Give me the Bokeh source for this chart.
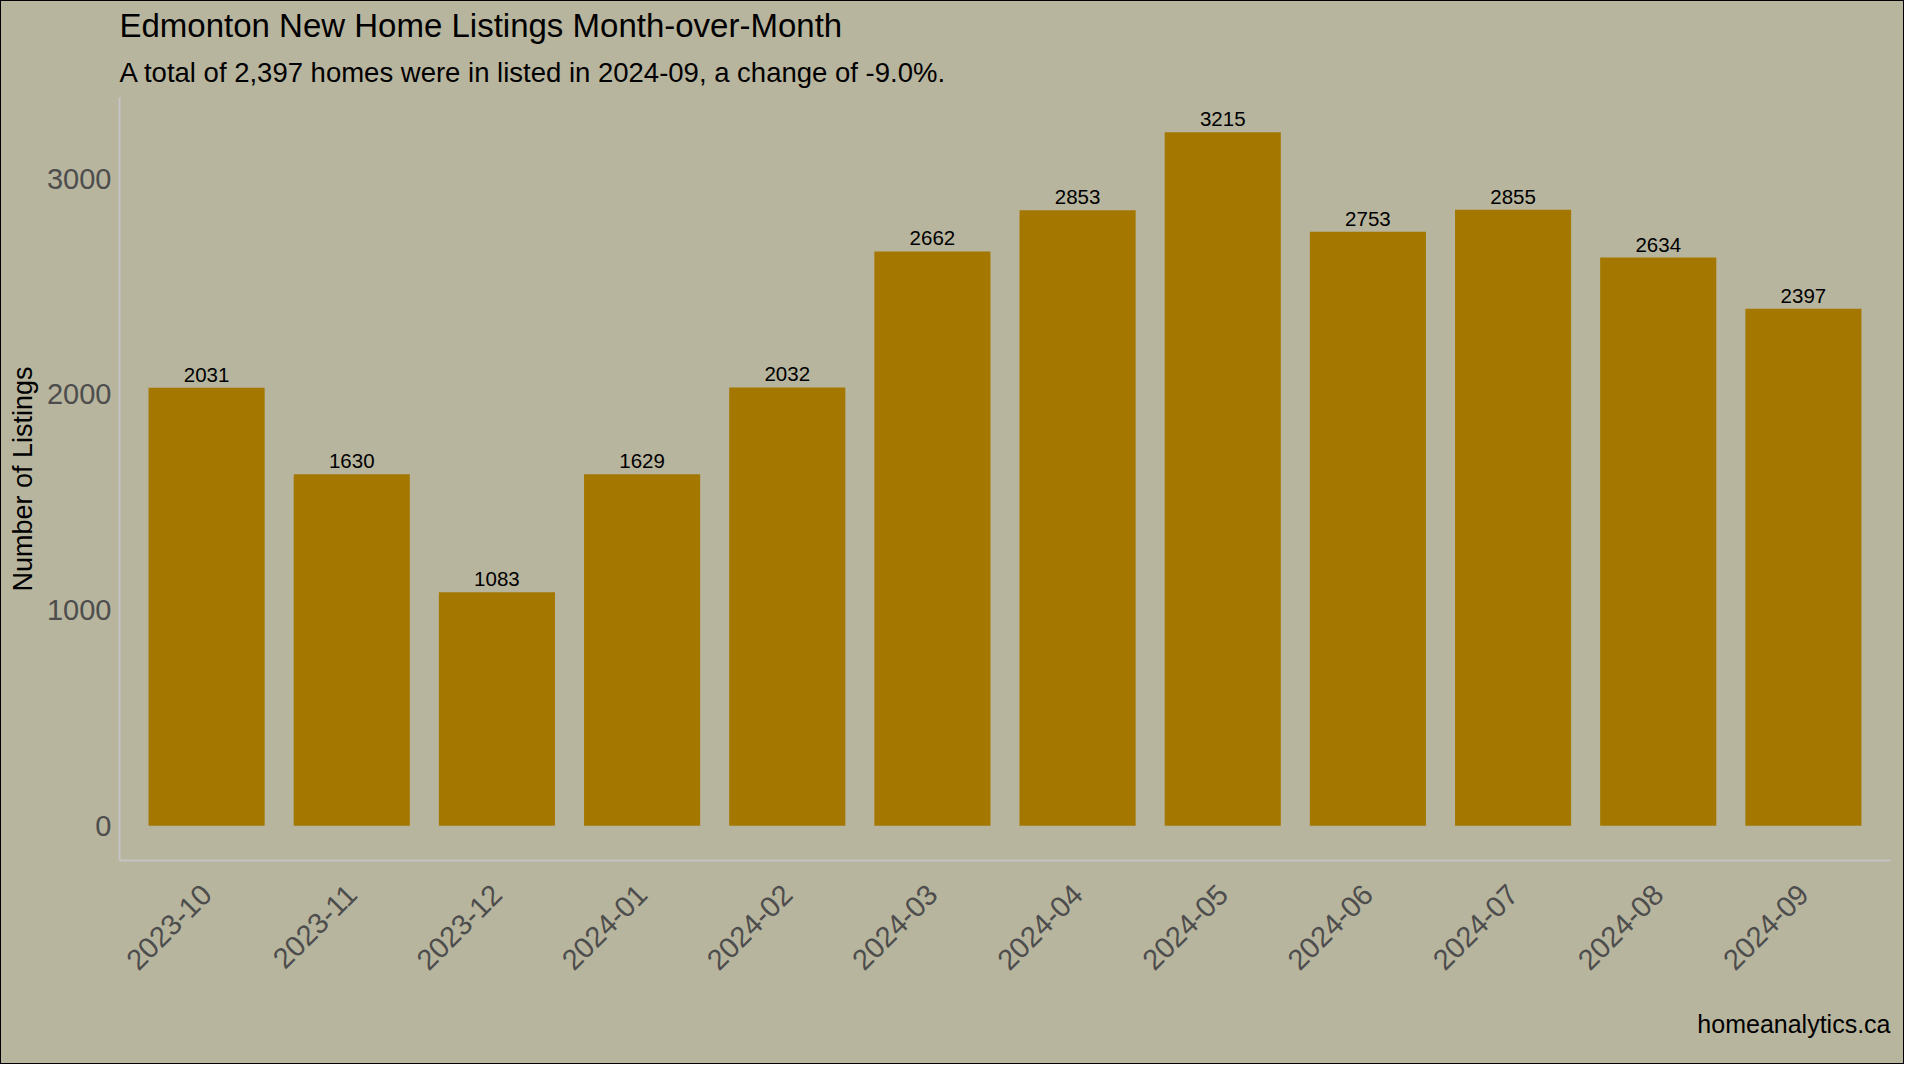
import math
from bokeh.plotting import figure
from bokeh.models import ColumnDataSource, Range1d, FactorRange, FixedTicker, Title
from bokeh.core.properties import value
from bokeh.embed import file_html
from bokeh.resources import INLINE

# ---- data ----
months = ["2023-10", "2023-11", "2023-12", "2024-01", "2024-02", "2024-03",
          "2024-04", "2024-05", "2024-06", "2024-07", "2024-08", "2024-09"]
listings = [2031, 1630, 1083, 1629, 2032, 2662, 2853, 3215, 2753, 2855, 2634, 2397]
y_ticks = [0, 1000, 2000, 3000]
title_text = "Edmonton New Home Listings Month-over-Month"
subtitle_text = "A total of 2,397 homes were in listed in 2024-09, a change of -9.0%."
y_label = "Number of Listings"
caption_text = "homeanalytics.ca"

# ---- style / layout ----
BG = "#B8B59E"
BAR = "#A47800"
AXIS = "#C4C4C4"
TICK = "#4D4D4D"
FONT = "Liberation Sans"

W, H = 1904, 1064
FL, FR, FT, FB = 119, 1890, 97, 862          # frame edges in canvas pixels
PAD = 0.1                                     # extra discrete padding beyond the outer bands

source = ColumnDataSource(data=dict(month=months, value=listings,
                                    label=[str(v) for v in listings]))

ymax = max(listings)

p = figure(
    width=W, height=H,
    x_range=FactorRange(factors=months, range_padding=PAD, range_padding_units="absolute"),
    y_range=Range1d(-0.05 * ymax, 1.05 * ymax),
    output_backend="svg", toolbar_location=None,
    min_border_left=FL, min_border_right=W - FR, min_border_top=FT, min_border_bottom=H - FB,
)
p.styles = {"background-color": BG, "box-shadow": "inset 0 0 0 1px #000000"}
p.background_fill_color = BG
p.border_fill_color = None
p.outline_line_color = None
p.xgrid.visible = False
p.ygrid.visible = False

p.vbar(x="month", top="value", width=0.8, source=source, fill_color=BAR, line_color=None)

p.text(x="month", y="value", text="label", source=source,
       text_align="center", text_baseline="alphabetic", y_offset=-13,
       text_font=value(FONT), text_font_size="20.5px", text_color="black")

# axes
for ax in (p.xaxis[0], p.yaxis[0]):
    ax.axis_line_color = AXIS
    ax.axis_line_width = 2
    ax.major_tick_line_color = None
    ax.minor_tick_line_color = None
    ax.major_tick_out = 0
    ax.major_tick_in = 0
    ax.major_label_text_font = FONT
    ax.major_label_text_font_size = "29px"
    ax.major_label_text_color = TICK

p.yaxis.ticker = FixedTicker(ticks=y_ticks)
p.yaxis.major_label_standoff = 8
p.yaxis.axis_label = y_label
p.yaxis.axis_label_text_font = FONT
p.yaxis.axis_label_text_font_size = "27px"
p.yaxis.axis_label_text_font_style = "normal"
p.yaxis.axis_label_text_color = "black"
p.yaxis.axis_label_standoff = 6

p.xaxis.major_label_orientation = math.pi / 4
p.xaxis.major_label_standoff = 29

# titles (subtitle first so that it sits nearer the frame) and caption
p.add_layout(Title(text=subtitle_text, align="left", text_font=FONT, text_font_size="27.5px",
                   text_font_style="normal", text_color="black", standoff=19), "above")
p.add_layout(Title(text=title_text, align="left", text_font=FONT, text_font_size="33px",
                   text_font_style="normal", text_color="black", standoff=2.5), "above")
p.add_layout(Title(text=caption_text, align="right", text_font=FONT, text_font_size="25px",
                   text_font_style="normal", text_color="black", standoff=53), "below")

open("out.html", "w").write(file_html(p, INLINE))
